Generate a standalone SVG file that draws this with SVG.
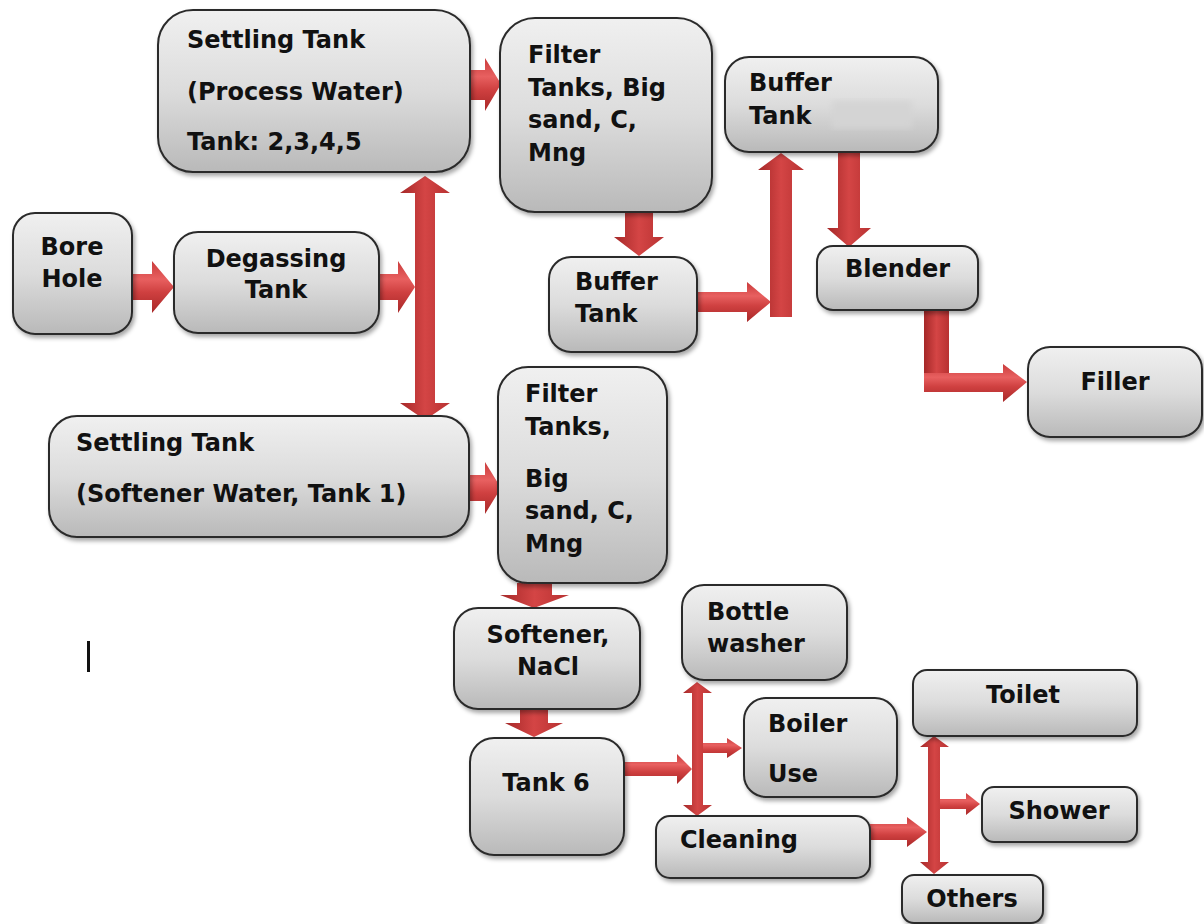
<svg xmlns="http://www.w3.org/2000/svg" width="1204" height="924" viewBox="0 0 1204 924">
<style>
.box{fill:url(#bg);stroke:#2b2b2b;stroke-width:2;filter:url(#sh)}
.t{font-family:"DejaVu Sans","Liberation Sans",sans-serif;font-weight:bold;font-size:24px;fill:#111}
.c{text-anchor:middle}
.ah{fill:url(#gh)}
.av{fill:url(#gv)}
</style>
<defs>
<linearGradient id="bg" x1="0" y1="0" x2="0" y2="1">
<stop offset="0" stop-color="#f0f0f0"/>
<stop offset="0.5" stop-color="#dcdcdc"/>
<stop offset="1" stop-color="#b9b9b9"/>
</linearGradient>
<linearGradient id="gh" x1="0" y1="0" x2="0" y2="1">
<stop offset="0" stop-color="#c93b3b"/>
<stop offset="0.35" stop-color="#e86060"/>
<stop offset="0.6" stop-color="#cf4040"/>
<stop offset="1" stop-color="#a82828"/>
</linearGradient>
<linearGradient id="gv" x1="0" y1="0" x2="1" y2="0">
<stop offset="0" stop-color="#a52828"/>
<stop offset="0.5" stop-color="#d44545"/>
<stop offset="1" stop-color="#b83232"/>
</linearGradient>
<filter id="sh" x="-10%" y="-10%" width="125%" height="130%">
<feDropShadow dx="2" dy="3" stdDeviation="2" flood-color="#000" flood-opacity="0.35"/>
</filter>
<filter id="blur"><feGaussianBlur stdDeviation="3"/></filter>
</defs>
<rect width="1204" height="924" fill="#fff"/>

<g id="connectors">
<path class="ah" d="M468,70 L485,70 L485,58 L501,84 L485,111 L485,100 L468,100 Z"/>
<path class="av" d="M625,212 L653,212 L653,237 L664,237 L639,256 L614,237 L625,237 Z"/>
<path class="ah" d="M697,292 L747,292 L747,282 L771,302 L747,322 L747,312 L697,312 Z"/>
<path class="av" d="M770,317 L770,170 L758,170 L781,153 L804,170 L792,170 L792,317 Z"/>
<path class="av" d="M838,152 L860,152 L860,228 L871,228 L849,247 L827,228 L838,228 Z"/>
<path class="av" d="M924,309 L949,309 L949,392 L924,392 Z"/>
<path class="ah" d="M924,373 L1003,373 L1003,364 L1027,382 L1003,402 L1003,392 L924,392 Z"/>
<path class="ah" d="M379,274 L398,274 L398,261 L415,287 L398,313 L398,300 L379,300 Z"/>
<path class="ah" d="M132,274 L152,274 L152,261 L174,287 L152,313 L152,300 L132,300 Z"/>
<path class="av" d="M425,176 L450,193 L435,193 L435,403 L450,403 L425,420 L400,403 L415,403 L415,193 L400,193 Z"/>
<path class="ah" d="M469,475 L485,475 L485,462 L501,488 L485,514 L485,501 L469,501 Z"/>
<path class="av" d="M517,583 L552,583 L552,595 L569,595 L534,608 L500,595 L517,595 Z"/>
<path class="av" d="M520,709 L548,709 L548,723 L563,723 L534,737 L505,723 L520,723 Z"/>
<path class="ah" d="M624,762 L677,762 L677,754 L692,769 L677,784 L677,776 L624,776 Z"/>
<path class="av" d="M697,682 L712,693 L703,693 L703,805 L712,805 L697,816 L683,805 L692,805 L692,693 L683,693 Z"/>
<path class="ah" d="M703,743 L727,743 L727,738 L742,748 L727,758 L727,753 L703,753 Z"/>
<path class="ah" d="M870,824 L907,824 L907,817 L927,832 L907,847 L907,840 L870,840 Z"/>
<path class="av" d="M934,736 L949,747 L940,747 L940,862 L949,862 L934,874 L920,862 L928,862 L928,747 L920,747 Z"/>
<path class="ah" d="M940,799 L966,799 L966,793 L980,804 L966,815 L966,809 L940,809 Z"/>
</g>

<g id="settling-process">
<rect class="box" x="158" y="10" width="312" height="162" rx="35"/>
<text class="t" x="187" y="48">Settling Tank</text>
<text class="t" x="187" y="100">(Process Water)</text>
<text class="t" x="187" y="150">Tank: 2,3,4,5</text>
</g>
<g id="filter-1">
<rect class="box" x="500" y="18" width="212" height="194" rx="35"/>
<text class="t" x="528" y="63">Filter</text>
<text class="t" x="528" y="96">Tanks, Big</text>
<text class="t" x="528" y="128">sand, C,</text>
<text class="t" x="528" y="161">Mng</text>
</g>
<g id="buffer-top">
<rect class="box" x="725" y="57" width="213" height="95" rx="24"/>
<text class="t" x="749" y="91">Buffer</text>
<text class="t" x="749" y="124">Tank</text>
<rect x="832" y="101" width="80" height="27" fill="#d4d4d4" filter="url(#blur)"/>
</g>
<g id="buffer-lower">
<rect class="box" x="549" y="257" width="148" height="95" rx="22"/>
<text class="t" x="575" y="290">Buffer</text>
<text class="t" x="575" y="322">Tank</text>
</g>
<g id="blender">
<rect class="box" x="817" y="246" width="161" height="64" rx="16"/>
<text class="t" x="845" y="277">Blender</text>
</g>
<g id="filler">
<rect class="box" x="1028" y="347" width="174" height="90" rx="22"/>
<text class="t c" x="1115" y="390">Filler</text>
</g>
<g id="bore-hole">
<rect class="box" x="13" y="213" width="119" height="121" rx="22"/>
<text class="t c" x="72" y="255">Bore</text>
<text class="t c" x="72" y="287">Hole</text>
</g>
<g id="degassing">
<rect class="box" x="174" y="232" width="205" height="101" rx="24"/>
<text class="t c" x="276" y="267">Degassing</text>
<text class="t c" x="276" y="298">Tank</text>
</g>
<g id="settling-softener">
<rect class="box" x="49" y="416" width="420" height="121" rx="28"/>
<text class="t" x="76" y="451">Settling Tank</text>
<text class="t" x="76" y="502">(Softener Water, Tank 1)</text>
</g>
<g id="filter-2">
<rect class="box" x="498" y="367" width="169" height="216" rx="30"/>
<text class="t" x="525" y="402">Filter</text>
<text class="t" x="525" y="435">Tanks,</text>
<text class="t" x="525" y="487">Big</text>
<text class="t" x="525" y="519">sand, C,</text>
<text class="t" x="525" y="552">Mng</text>
</g>
<g id="softener">
<rect class="box" x="454" y="608" width="186" height="101" rx="24"/>
<text class="t c" x="548" y="643">Softener,</text>
<text class="t c" x="548" y="675">NaCl</text>
</g>
<g id="tank-6">
<rect class="box" x="470" y="738" width="154" height="117" rx="24"/>
<text class="t c" x="546" y="791">Tank 6</text>
</g>
<g id="bottle-washer">
<rect class="box" x="682" y="585" width="165" height="95" rx="22"/>
<text class="t" x="707" y="620">Bottle</text>
<text class="t" x="707" y="652">washer</text>
</g>
<g id="boiler">
<rect class="box" x="744" y="698" width="153" height="99" rx="22"/>
<text class="t" x="768" y="732">Boiler</text>
<text class="t" x="768" y="782">Use</text>
</g>
<g id="cleaning">
<rect class="box" x="656" y="816" width="214" height="62" rx="14"/>
<text class="t" x="680" y="848">Cleaning</text>
</g>
<g id="toilet">
<rect class="box" x="913" y="670" width="224" height="66" rx="14"/>
<text class="t c" x="1023" y="703">Toilet</text>
</g>
<g id="shower">
<rect class="box" x="982" y="787" width="155" height="55" rx="12"/>
<text class="t c" x="1059" y="819">Shower</text>
</g>
<g id="others">
<rect class="box" x="902" y="875" width="141" height="48" rx="12"/>
<text class="t c" x="972" y="907">Others</text>
</g>
<rect x="87" y="641" width="3" height="31" fill="#111"/>
</svg>
